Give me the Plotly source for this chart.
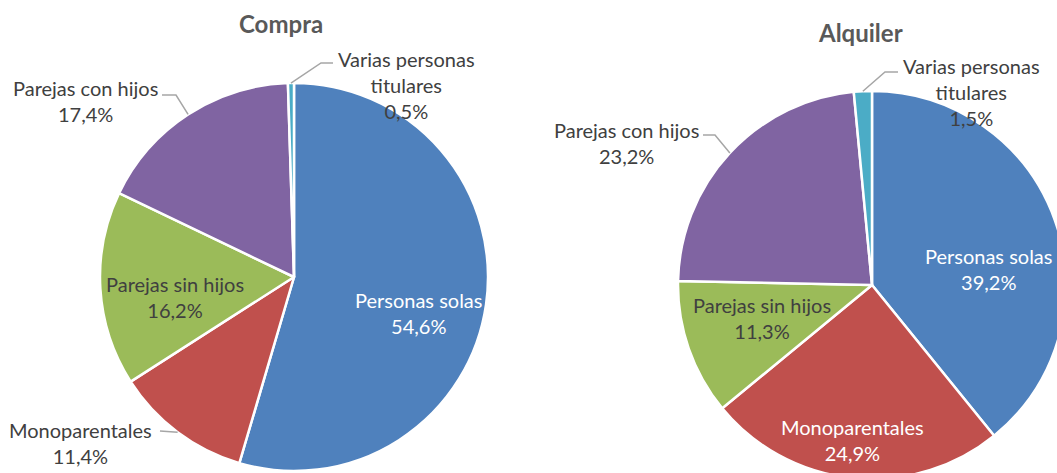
import math
import plotly.graph_objects as go

# ---------------- data ----------------
categories = ["Personas solas", "Monoparentales", "Parejas sin hijos",
              "Parejas con hijos", "Varias personas titulares"]
compra_values = [54.6, 11.4, 16.2, 17.4, 0.5]
alquiler_values = [39.2, 24.9, 11.3, 23.2, 1.5]
chart_titles = ["Compra", "Alquiler"]

# ---------------- style ----------------
colors = ["#4F81BD", "#C0504D", "#9BBB59", "#8064A2", "#4BACC6"]
FONT = "Lato"
DARK = "#404040"
W, H = 1090, 500


def fx(x):
    return x / W


def fy(y):
    return 1 - y / H


# pie geometry (pixels): centre x, centre y, radius
pies = [
    dict(cx=294, cy=277, r=194, values=compra_values, title=chart_titles[0], tpos=(281, 23)),
    dict(cx=872, cy=285, r=194, values=alquiler_values, title=chart_titles[1], tpos=(860, 32)),
]

# label placement per pie: category index -> (text centre x, y, colour, leader elbow points or None)
label_layout = [
    {
        0: (418, 313, "white", None),
        1: (80, 443, DARK, [(160, 431)]),
        2: (175, 297, DARK, None),
        3: (85, 101, DARK, [(162, 95), (176, 95)]),
        4: (406, 85, DARK, [(333, 63), (321, 63)]),
    },
    {
        0: (988, 269, "white", None),
        1: (852, 440, "white", None),
        2: (762, 318, DARK, None),
        3: (626, 143, DARK, [(703, 135), (715, 135)]),
        4: (971, 92, DARK, [(898, 72), (885, 72)]),
    },
]


def display_name(name):
    return name.replace("Varias personas ", "Varias personas<br>")


def fmt(v):
    return f"{v:.1f}".replace(".", ",") + "%"


fig = go.Figure()
annotations = []
shapes = []

for p, lay in zip(pies, label_layout):
    cx, cy, r = p["cx"], p["cy"], p["r"]
    fig.add_trace(go.Pie(
        labels=categories,
        values=p["values"],
        sort=False,
        direction="clockwise",
        rotation=0,
        textinfo="none",
        hoverinfo="label+percent",
        marker=dict(colors=colors, line=dict(color="white", width=2.5)),
        domain=dict(x=[fx(cx - r), fx(cx + r)], y=[fy(cy + r), fy(cy - r)]),
        showlegend=False,
    ))
    annotations.append(dict(
        x=fx(p["tpos"][0]), y=fy(p["tpos"][1]), xref="paper", yref="paper",
        text=f"<b>{p['title']}</b>", showarrow=False,
        font=dict(family=FONT, size=24, color="#595959"),
        xanchor="center", yanchor="middle",
    ))
    total = sum(p["values"])
    cum = 0.0
    for i, (cat, v) in enumerate(zip(categories, p["values"])):
        mid = (cum + v / 2) / total * 2 * math.pi
        cum += v
        tx, ty, col, elbow = lay[i]
        annotations.append(dict(
            x=fx(tx), y=fy(ty), xref="paper", yref="paper",
            text=f"{display_name(cat)}<br>{fmt(v)}", showarrow=False,
            font=dict(family=FONT, size=20, color=col),
            xanchor="center", yanchor="middle", align="center",
        ))
        if elbow:
            ex = cx + r * math.sin(mid)
            ey = cy - r * math.cos(mid)
            pts = elbow + [(ex, ey)]
            path = "M " + " L ".join(f"{fx(a):.5f},{fy(b):.5f}" for a, b in pts)
            shapes.append(dict(type="path", path=path, xref="paper", yref="paper",
                               line=dict(color="#A6A6A6", width=1.5)))

fig.update_layout(
    width=W, height=H,
    margin=dict(l=0, r=0, t=0, b=0),
    paper_bgcolor="white", plot_bgcolor="white",
    annotations=annotations, shapes=shapes,
    font=dict(family=FONT),
)

fig.write_html(
    "out.html",
    config={"displayModeBar": False},
    post_script="document.body.style.margin='0';document.body.style.overflow='hidden';"
                "document.documentElement.style.overflow='hidden';",
)
